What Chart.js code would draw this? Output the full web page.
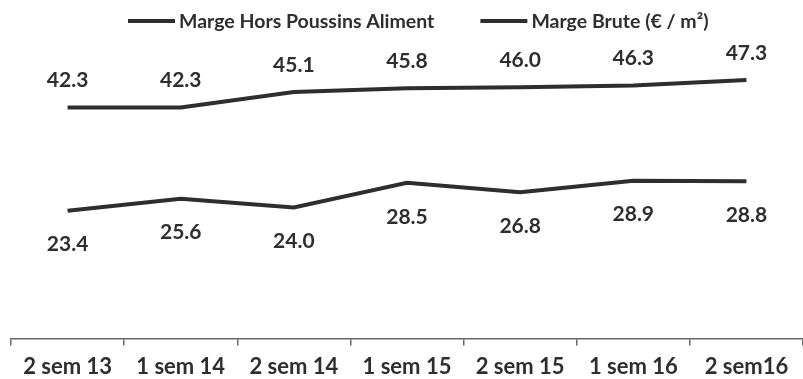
<!DOCTYPE html>
<html>
<head>
<meta charset="utf-8">
<script src="https://cdn.jsdelivr.net/npm/chart.js@4"></script>
<style>
  html, body { margin: 0; padding: 0; background: #fff; }
  #wrap { width: 803px; height: 379px; }
</style>
</head>
<body>
<div id="wrap"><canvas id="chart"></canvas></div>
<script>
const periods = ['2 sem 13', '1 sem 14', '2 sem 14', '1 sem 15', '2 sem 15', '1 sem 16', '2 sem16'];
const margeHorsPoussins = [42.3, 42.3, 45.1, 45.8, 46.0, 46.3, 47.3];
const margeBrute = [23.4, 25.6, 24.0, 28.5, 26.8, 28.9, 28.8];

const ink = '#2e2e2e';

// value labels: above the upper series, below the lower one
const valueLabels = {
    id: 'valueLabels',
    afterDatasetsDraw(chart) {
        const ctx = chart.ctx;
        ctx.save();
        ctx.font = 'bold 21px Lato';
        ctx.fillStyle = ink;
        ctx.textAlign = 'center';
        ctx.textBaseline = 'middle';
        chart.data.datasets.forEach((ds, i) => {
            const meta = chart.getDatasetMeta(i);
            const dy = i === 0 ? -27 : 34;
            meta.data.forEach((pt, j) => {
                ctx.fillText(ds.data[j].toFixed(1), pt.x, pt.y + dy);
            });
        });
        ctx.restore();
    }
};

// legend row drawn by hand, sitting left of centre
const lineLegend = {
    id: 'lineLegend',
    afterDraw(chart) {
        const ctx = chart.ctx;
        const y = 21;
        let x = 128;
        ctx.save();
        ctx.font = 'bold 19.5px Lato';
        ctx.textBaseline = 'middle';
        ctx.textAlign = 'left';
        chart.data.datasets.forEach(ds => {
            ctx.strokeStyle = ds.borderColor;
            ctx.lineWidth = 4;
            ctx.beginPath();
            ctx.moveTo(x, y);
            ctx.lineTo(x + 47, y);
            ctx.stroke();
            x += 51;
            ctx.fillStyle = ink;
            ctx.fillText(ds.label, x, y + 1);
            x += ctx.measureText(ds.label).width + 46;
        });
        ctx.restore();
    }
};

new Chart(document.getElementById('chart'), {
    type: 'line',
    data: {
        labels: periods,
        datasets: [
            {
                label: 'Marge Hors Poussins Aliment',
                data: margeHorsPoussins,
                borderColor: ink,
                backgroundColor: ink,
                borderWidth: 4,
                pointRadius: 0,
                tension: 0
            },
            {
                label: 'Marge Brute (€ / m²)',
                data: margeBrute,
                borderColor: ink,
                backgroundColor: ink,
                borderWidth: 4,
                pointRadius: 0,
                tension: 0
            }
        ]
    },
    options: {
        responsive: true,
        maintainAspectRatio: false,
        animation: false,
        layout: { padding: { left: 11, right: 0, top: 38, bottom: 0 } },
        scales: {
            x: {
                offset: true,
                // the labels hang close to the bottom edge
                afterFit: scale => { scale.height -= 9; },
                border: { display: true, color: '#666', width: 1.5 },
                grid: {
                    offset: true,
                    drawOnChartArea: false,
                    drawTicks: true,
                    tickLength: 7,
                    color: '#666',
                    lineWidth: 1.5
                },
                ticks: {
                    color: ink,
                    padding: 8,
                    font: { family: 'Lato', weight: 'bold', size: 22 }
                }
            },
            y: {
                display: false,
                min: 0,
                max: 55
            }
        },
        plugins: {
            legend: { display: false },
            tooltip: { enabled: false }
        }
    },
    plugins: [valueLabels, lineLegend]
});
</script>
</body>
</html>
